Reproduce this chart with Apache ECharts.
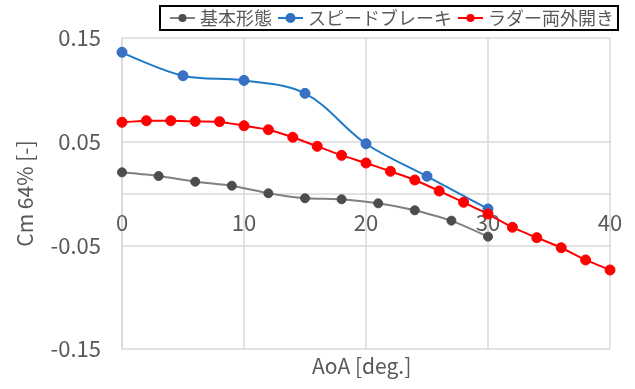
<!DOCTYPE html>
<html>
<head>
<meta charset="utf-8">
<script src="https://cdn.jsdelivr.net/npm/echarts@6/dist/echarts.min.js"></script>
<style>
  html, body { margin: 0; padding: 0; background: #fff; }
  #chart { width: 635px; height: 389px; }
</style>
</head>
<body>
<div id="chart"></div>
<script>
// Pitching-moment coefficient vs angle of attack for three configurations
const seriesNames = ['基本形態', 'スピードブレーキ', 'ラダー両外開き'];

const baseAoA = [0, 3, 6, 9, 12, 15, 18, 21, 24, 27, 30];
const baseCm  = [0.0204, 0.0169, 0.0114, 0.0075, 0.0002, -0.0046, -0.0056, -0.0095, -0.0162, -0.0262, -0.0416];

const brakeAoA = [0, 5, 10, 15, 20, 25, 30];
const brakeCm  = [0.1362, 0.1136, 0.1091, 0.0966, 0.0480, 0.0166, -0.0149];

const rudderAoA = [0, 2, 4, 6, 8, 10, 12, 14, 16, 18, 20, 22, 24, 26, 28, 30, 32, 34, 36, 38, 40];
const rudderCm  = [0.0687, 0.0702, 0.0702, 0.0696, 0.0693, 0.0654, 0.0615, 0.0542, 0.0455, 0.0368, 0.0294,
                   0.0214, 0.0130, 0.0024, -0.0085, -0.0198, -0.0326, -0.0426, -0.0523, -0.0641, -0.0738];

const yTicks = { min: -0.15, max: 0.15, step: 0.1 };
const xTicks = { min: 0, max: 40, step: 10 };

const zip = (xs, ys) => xs.map((x, i) => [x, ys[i]]);

const FONT = '"Noto Sans CJK JP", "Noto Sans", sans-serif';
const TXT = '#595959';
const GRID = '#d9d9d9';

// plot area
const G = { left: 122, right: 25, top: 38, bottom: 40 };
const plotH = 389 - G.top - G.bottom;
// lift the AoA axis (line + labels) up to where Cm = 0
const zeroLift = plotH * (0 - yTicks.min) / (yTicks.max - yTicks.min);

const chart = echarts.init(document.getElementById('chart'), null, { renderer: 'canvas' });

chart.setOption({
  animation: false,
  backgroundColor: '#fff',
  textStyle: { fontFamily: FONT },
  grid: Object.assign({ containLabel: false }, G),
  legend: {
    left: 160, top: 6,
    padding: [3, 4, 3, 9],
    borderColor: '#000', borderWidth: 2,
    itemWidth: 25, itemHeight: 10, itemGap: 5,
    textStyle: { fontSize: 18, color: TXT, fontFamily: FONT },
    data: seriesNames
  },
  xAxis: {
    type: 'value',
    min: xTicks.min, max: xTicks.max, interval: xTicks.step,
    position: 'bottom',
    offset: -zeroLift,
    axisLine: { onZero: false, lineStyle: { color: GRID, width: 1.5 } },
    axisTick: { show: false },
    axisLabel: { fontSize: 22, color: TXT, margin: 18, fontFamily: FONT },
    splitLine: { show: true, lineStyle: { color: GRID, width: 1.5 } }
  },
  yAxis: {
    type: 'value',
    min: yTicks.min, max: yTicks.max, interval: yTicks.step,
    name: 'Cm 64% [-]',
    nameLocation: 'middle',
    nameGap: 86,
    nameTextStyle: { fontSize: 21, color: TXT, fontFamily: FONT },
    axisLine: { show: true, lineStyle: { color: GRID, width: 1.5 } },
    axisTick: { show: false },
    axisLabel: { fontSize: 22, color: TXT, margin: 21, fontFamily: FONT },
    splitLine: { show: true, lineStyle: { color: GRID, width: 1.5 } }
  },
  graphic: [{
    type: 'text',
    left: 312, top: 356,
    style: { text: 'AoA [deg.]', fontSize: 21, fill: TXT, fontFamily: FONT }
  }],
  series: [
    {
      name: seriesNames[0], type: 'line', data: zip(baseAoA, baseCm),
      smooth: 0.15, symbol: 'circle', symbolSize: 9,
      lineStyle: { color: '#808080', width: 2 },
      itemStyle: { color: '#4d4d4d', borderColor: '#4d4d4d' },
      z: 3
    },
    {
      name: seriesNames[1], type: 'line', data: zip(brakeAoA, brakeCm),
      smooth: 0.35, symbol: 'circle', symbolSize: 10,
      lineStyle: { color: '#1f7ac8', width: 2 },
      itemStyle: { color: '#3a6fc4', borderColor: '#2a72c0', borderWidth: 1 },
      z: 4
    },
    {
      name: seriesNames[2], type: 'line', data: zip(rudderAoA, rudderCm),
      smooth: 0.15, symbol: 'circle', symbolSize: 10,
      lineStyle: { color: '#ff0000', width: 2 },
      itemStyle: { color: '#ff0000', borderColor: '#ff0000' },
      z: 5
    }
  ]
});
</script>
</body>
</html>
